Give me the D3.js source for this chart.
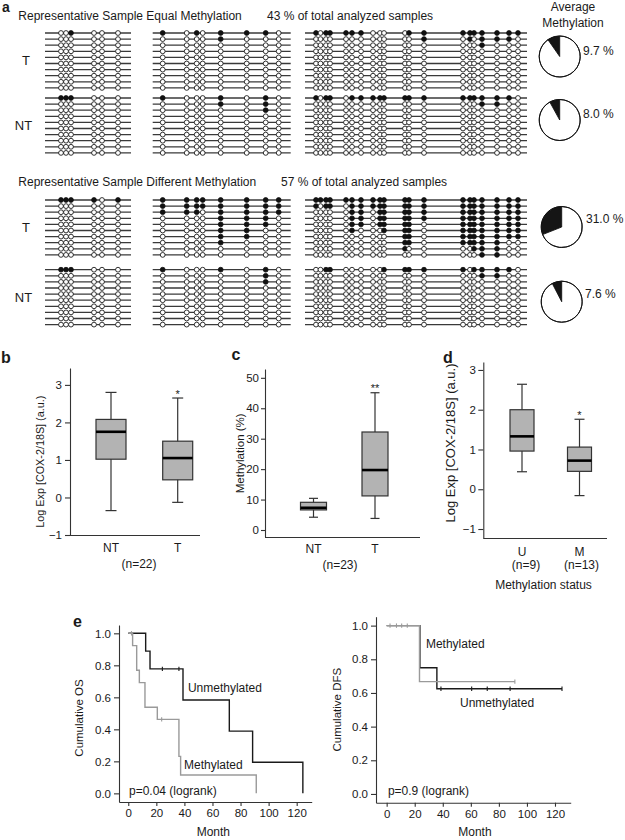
<!DOCTYPE html>
<html><head><meta charset="utf-8">
<script src="https://cdn.jsdelivr.net/npm/d3@7"></script>
<style>
body{margin:0;background:#fff}
svg{display:block;background:#fff}
</style>
</head><body>
<svg id="fig" width="625" height="840"></svg>
<script>
// ================= DATA =================
// Panel a : CpG site positions (bp within each amplicon) and amplicon lengths
const region1CpG = [16, 21, 26, 49, 57, 73];
const region1Len = 86;
const region2CpG = [10, 34, 44, 50, 68, 94, 113, 126];
const region2Len = 138;
const region3CpG = [11, 15.5, 21, 25, 41, 47, 56, 68, 75, 79, 100, 104, 119, 158, 165, 169, 177, 192, 204, 213];
const region3Len = 222;

// methylation status per clone (1 = methylated), regions separated by |
const equalT = [
  "001000|10101110|1011 111 000 01 1 1111 111",
  "000000|00001000|0000 000 000 00 1 0101 110",
  "000000|00000000|0000 000 000 00 0 0001 000",
  "000000|00000000|0000 000 000 00 0 0000 000",
  "000000|00000000|0000 000 000 00 0 0000 000",
  "000000|00000000|0000 000 000 00 0 0000 000",
  "000000|00000000|0000 000 000 00 0 0000 000",
  "000000|00000000|0000 000 000 00 0 0000 000",
  "000000|00000000|0000 000 000 00 0 0000 000",
  "000000|00000000|0000 000 000 00 0 0000 000"
];
const equalNT = [
  "111000|10001010|1011 011 111 11 1 1111 110",
  "000000|00001010|0000 000 000 00 0 0001 100",
  "000000|00000010|0000 000 000 00 0 0000 000",
  "000000|00000000|0000 000 000 00 0 0000 000",
  "000000|00000000|0000 000 000 00 0 0000 000",
  "000000|00000000|0000 000 000 00 0 0000 000",
  "000000|00000000|0000 000 000 00 0 0000 000",
  "000000|00000000|0000 000 000 00 0 0000 000",
  "000000|00000000|0000 000 000 00 0 0000 000",
  "000000|00000000|0000 000 000 00 0 0000 000"
];
const diffT = [
  "111101|11111111|1111 111 111 11 1 1111 111",
  "000000|11111111|1011 011 111 11 1 1111 111",
  "000000|11101111|0000 011 011 11 1 1111 111",
  "000000|00001110|0000 011 011 11 1 1111 111",
  "000000|00001110|0000 011 011 11 0 1111 111",
  "000000|00001100|0000 010 001 11 0 1111 111",
  "000000|00001100|0000 000 000 11 0 1111 111",
  "000000|00001000|0000 000 000 11 0 1111 100",
  "000000|00000000|0000 000 000 10 0 0011 100",
  "000000|00000000|0000 000 000 00 0 0001 100"
];
const diffNT = [
  "111000|10001010|0011 000 001 11 1 1011 110",
  "000000|00000010|0000 000 000 00 0 0001 100",
  "000000|00000010|0000 000 000 00 0 0000 000",
  "000000|00000000|0000 000 000 00 0 0000 000",
  "000000|00000000|0000 000 000 00 0 0000 000",
  "000000|00000000|0000 000 000 00 0 0000 000",
  "000000|00000000|0000 000 000 00 0 0000 000",
  "000000|00000000|0000 000 000 00 0 0000 000",
  "000000|00000000|0000 000 000 00 0 0000 000",
  "000000|00000000|0000 000 000 00 0 0000 000"
];
const avgMethylation = [9.7, 8.0, 31.0, 7.6];
const avgLabels = ["9.7 %", "8.0 %", "31.0 %", "7.6 %"];

// Panel b
const bCats = ["NT", "T"];
const bStats = [[-0.35, 1.02, 1.75, 2.08, 2.8], [-0.13, 0.47, 1.05, 1.5, 2.65]]; // min,q1,median,q3,max
const bStars = ["", "*"];
const bTicks = [-1, 0, 1, 2, 3];
// Panel c
const cCats = ["NT", "T"];
const cStats = [[4.2, 6.6, 7.3, 9.1, 10.4], [3.8, 11.2, 19.7, 32.2, 45.1]];
const cStars = ["", "**"];
const cTicks = [0, 10, 20, 30, 40, 50];
// Panel d
const dCats = ["U", "M"];
const dN = ["(n=9)", "(n=13)"];
const dStats = [[0.44, 0.96, 1.33, 2.0, 2.64], [-0.16, 0.45, 0.72, 1.06, 1.76]];
const dStars = ["", "*"];
const dTicks = [-1, 0, 1, 2, 3];

// Panel e : Kaplan-Meier steps [month, cumulative survival] and censor times
const osUnmeth = [[0, 1], [12.4, 0.889], [15.5, 0.778], [39, 0.583], [72, 0.389], [88.6, 0.194], [124.4, 0]];
const osUnmethCensor = [24.3, 36.1];
const osMeth = [[0, 1], [3.1, 0.923], [6, 0.769], [7.9, 0.692], [11.9, 0.538], [20.7, 0.462], [36.1, 0.231], [37.3, 0.115], [91.2, 0]];
const osMethCensor = [2.3, 23.8];
const dfsUnmeth = [[0, 1], [23.7, 0.75], [35.8, 0.625], [125, 0.625]];
const dfsUnmethCensor = [38.7, 60.6, 71.7, 88, 125];
const dfsMeth = [[0, 1], [23.4, 0.667], [91.4, 0.667]];
const dfsMethCensor = [2.4, 7, 10.7, 14.7, 91.4];
const kmXTicks = [0, 20, 40, 60, 80, 100, 120];
const kmYTicks = [0, 0.2, 0.4, 0.6, 0.8, 1.0];

// ================= DRAW =================
const FONT = "'Liberation Sans', Arial, Helvetica, sans-serif";
const INK = "#1a1a1a";
const AX = "#333";
const svg = d3.select("#fig");

function txt(x, y, s, o = {}) {
  const t = svg.append("text").attr("x", x).attr("y", y).text(s)
    .attr("font-family", FONT).attr("font-size", o.size || 12)
    .attr("fill", o.fill || INK)
    .attr("text-anchor", o.anchor || "start");
  if (o.bold) t.attr("font-weight", "bold");
  if (o.rotate) t.attr("transform", `rotate(-90 ${x} ${y})`);
  return t;
}
function styleAxis(g, size) {
  g.attr("font-family", FONT).attr("font-size", size).attr("color", AX);
  g.selectAll("text").attr("fill", INK);
  g.selectAll("line,path").attr("stroke-width", 1.1);
}

// ---------- Panel a ----------
txt(2, 12, "a", {size: 14, bold: true});
txt(18.3, 20, "Representative Sample Equal Methylation");
txt(267, 20, "43 % of total analyzed samples");
txt(18.3, 186, "Representative Sample Different Methylation");
txt(281, 186, "57 % of total analyzed samples");
txt(573, 11, "Average", {anchor: "middle"});
txt(573, 26.5, "Methylation", {anchor: "middle"});

const regions = [
  {cpg: region1CpG, len: region1Len, x0: 45, x1: 131},
  {cpg: region2CpG, len: region2Len, x0: 152.7, x1: 290.7},
  {cpg: region3CpG, len: region3Len, x0: 305, x1: 527}
];
const blocks = [
  {rows: equalT, y0: 33, label: "T", lx: 26},
  {rows: equalNT, y0: 98, label: "NT", lx: 23.5},
  {rows: diffT, y0: 200, label: "T", lx: 26},
  {rows: diffNT, y0: 269.7, label: "NT", lx: 23.5}
];
const rowStep = 6.1;
blocks.forEach((b, bi) => {
  const y = d3.scaleLinear().domain([0, b.rows.length - 1]).range([b.y0, b.y0 + (b.rows.length - 1) * rowStep]);
  const g = svg.append("g");
  b.rows.forEach((str, ri) => {
    const parts = str.replace(/ /g, "").split("|");
    regions.forEach((reg, k) => {
      const x = d3.scaleLinear().domain([0, reg.len]).range([reg.x0, reg.x1]);
      g.append("line").attr("x1", x(0)).attr("x2", x(reg.len))
        .attr("y1", y(ri)).attr("y2", y(ri)).attr("stroke", "#3a3a3a").attr("stroke-width", 1.3);
      g.selectAll(null).data(reg.cpg).enter().append("circle")
        .attr("cx", d => x(d)).attr("cy", y(ri)).attr("r", 2.4)
        .attr("fill", (d, i) => parts[k][i] === "1" ? "#111" : "#fff")
        .attr("stroke", "#111").attr("stroke-width", 0.85);
    });
  });
  const mid = (y(0) + y(b.rows.length - 1)) / 2;
  txt(b.lx, mid + 4.6, b.label, {size: 13, anchor: "middle"});
});

// pies
const pieCenters = [[559.7, 56.5], [559.7, 120], [561.7, 227], [561.7, 301.7]];
const labelPos = [[583, 54.5], [583, 118], [586, 223], [585, 297.5]];
const pie = d3.pie().sort(null).startAngle(0).endAngle(-2 * Math.PI);
const arc = d3.arc().innerRadius(0).outerRadius(20.5);
avgMethylation.forEach((v, i) => {
  const g = svg.append("g").attr("transform", `translate(${pieCenters[i][0]},${pieCenters[i][1]})`);
  g.selectAll("path").data(pie([v, 100 - v])).enter().append("path")
    .attr("d", arc).attr("fill", (d, j) => j === 0 ? "#151515" : "#fff")
    .attr("stroke", "#111").attr("stroke-width", 0.9);
  g.append("circle").attr("r", 20.5).attr("fill", "none").attr("stroke", "#111").attr("stroke-width", 1);
  txt(labelPos[i][0], labelPos[i][1], avgLabels[i], {size: 12});
});

// ---------- Box plots ----------
function boxPanel(cfg) {
  const y = d3.scaleLinear().domain(cfg.yDomain).range([cfg.bottom, cfg.top]);
  const x = d3.scalePoint().domain(cfg.cats).range(cfg.catRange);
  const g = svg.append("g");
  g.append("line").attr("x1", cfg.left).attr("x2", cfg.right)
    .attr("y1", cfg.bottom + 0.5).attr("y2", cfg.bottom + 0.5)
    .attr("stroke", AX).attr("stroke-width", 1.2);
  const ya = g.append("g").attr("transform", `translate(${cfg.left},0)`)
    .call(d3.axisLeft(y).tickValues(cfg.ticks).tickFormat(d3.format("d"))
      .tickSize(cfg.tickSize).tickSizeOuter(0).tickPadding(cfg.tickPad));
  styleAxis(ya, cfg.tickFont);
  const items = cfg.cats.map((c, i) => ({c, s: cfg.stats[i], star: cfg.stars[i]}));
  const bx = g.selectAll(null).data(items).enter().append("g");
  bx.append("line").attr("x1", d => x(d.c)).attr("x2", d => x(d.c))
    .attr("y1", d => y(d.s[0])).attr("y2", d => y(d.s[4])).attr("stroke", AX).attr("stroke-width", 1.2);
  [0, 4].forEach(k => bx.append("line")
    .attr("x1", d => x(d.c) - cfg.capW / 2).attr("x2", d => x(d.c) + cfg.capW / 2)
    .attr("y1", d => y(d.s[k])).attr("y2", d => y(d.s[k])).attr("stroke", AX).attr("stroke-width", 1.2));
  bx.append("rect").attr("x", d => x(d.c) - cfg.boxW / 2).attr("width", cfg.boxW)
    .attr("y", d => y(d.s[3])).attr("height", d => y(d.s[1]) - y(d.s[3]))
    .attr("fill", "#b3b3b3").attr("stroke", AX).attr("stroke-width", 1.2);
  bx.append("line").attr("x1", d => x(d.c) - cfg.boxW / 2).attr("x2", d => x(d.c) + cfg.boxW / 2)
    .attr("y1", d => y(d.s[2])).attr("y2", d => y(d.s[2])).attr("stroke", "#000").attr("stroke-width", 2.6);
  bx.append("text").attr("x", d => x(d.c)).attr("y", d => y(d.s[4]) - 0.5).text(d => d.star)
    .attr("text-anchor", "middle").attr("font-family", FONT).attr("font-size", 11).attr("fill", INK);
  bx.append("text").attr("x", d => x(d.c)).attr("y", cfg.catY).text(d => d.c)
    .attr("text-anchor", "middle").attr("font-family", FONT).attr("font-size", 12).attr("fill", INK);
  return x;
}

// b
txt(1, 363, "b", {size: 16, bold: true});
boxPanel({cats: bCats, stats: bStats, stars: bStars, ticks: bTicks, yDomain: [-1, 3.45],
  left: 70, right: 200, top: 368, bottom: 535, catRange: [111, 177.7], boxW: 30, capW: 11,
  tickSize: 5, tickPad: 3, tickFont: 11.5, catY: 551.5});
txt(44, 461.7, "Log Exp [COX-2/18S] (a.u.)", {size: 10.8, anchor: "middle", rotate: true});
txt(139, 568, "(n=22)", {anchor: "middle"});

// c
txt(231.5, 360, "c", {size: 16, bold: true});
boxPanel({cats: cCats, stats: cStats, stars: cStars, ticks: cTicks, yDomain: [-2.3, 52.9],
  left: 265, right: 420, top: 369, bottom: 537, catRange: [313.5, 375], boxW: 26, capW: 9,
  tickSize: 4, tickPad: 2, tickFont: 11.5, catY: 553});
txt(244, 453.3, "Methylation (%)", {size: 11.5, anchor: "middle", rotate: true});
txt(340, 569, "(n=23)", {anchor: "middle"});

// d
txt(443, 363, "d", {size: 16, bold: true});
const dx = boxPanel({cats: dCats, stats: dStats, stars: dStars, ticks: dTicks, yDomain: [-1.226, 3.2],
  left: 483.3, right: 607, top: 362, bottom: 538, catRange: [522, 579.5], boxW: 24, capW: 10,
  tickSize: 5, tickPad: 2.5, tickFont: 11.5, catY: 556});
txt(455, 443, "Log Exp [COX-2/18S] (a.u.)", {size: 13, anchor: "middle", rotate: true});
svg.append("g").selectAll("text").data(dCats).enter().append("text")
  .attr("x", (d, i) => dx(d) + (i === 0 ? 4 : 2)).attr("y", 569).text((d, i) => dN[i])
  .attr("text-anchor", "middle").attr("font-family", FONT).attr("font-size", 12).attr("fill", INK);
txt(543.5, 588.5, "Methylation status", {anchor: "middle"});

// ---------- Kaplan-Meier ----------
function kmPanel(cfg) {
  const x = d3.scaleLinear().domain(cfg.xDomain).range([cfg.left, cfg.right]);
  const y = d3.scaleLinear().domain(cfg.yDomain).range([cfg.bottom, cfg.top]);
  const g = svg.append("g");
  const xa = g.append("g").attr("transform", `translate(0,${cfg.bottom})`)
    .call(d3.axisBottom(x).tickValues(kmXTicks).tickSize(4).tickSizeOuter(0).tickPadding(3));
  styleAxis(xa, 11.5);
  const ya = g.append("g").attr("transform", `translate(${cfg.left},0)`)
    .call(d3.axisLeft(y).tickValues(kmYTicks).tickFormat(d3.format(".1f")).tickSize(5).tickSizeOuter(0).tickPadding(3));
  styleAxis(ya, 11.5);
  const line = d3.line().x(d => x(d[0])).y(d => y(d[1])).curve(d3.curveStepAfter);
  const survAt = (steps, t) => { let v = steps[0][1]; steps.forEach(s => { if (s[0] <= t) v = s[1]; }); return v; };
  cfg.series.forEach(s => {
    g.append("path").datum(s.steps).attr("d", line).attr("fill", "none")
      .attr("stroke", s.color).attr("stroke-width", 1.4);
    g.selectAll(null).data(s.censor).enter().append("line")
      .attr("x1", d => x(d)).attr("x2", d => x(d))
      .attr("y1", d => y(survAt(s.steps, d)) - 2.2).attr("y2", d => y(survAt(s.steps, d)) + 2.2)
      .attr("stroke", s.color).attr("stroke-width", 1.1);
  });
  cfg.notes.forEach(n => txt(x(n[0]), y(n[1]), n[2], {size: 12}));
  txt((cfg.left + cfg.right) / 2 + cfg.monthDx, 836, "Month", {anchor: "middle"});
  txt(cfg.ylabX, (cfg.top + cfg.bottom) / 2 + cfg.ylabDy, cfg.ylab, {size: 11.5, anchor: "middle", rotate: true});
}

txt(73, 627, "e", {size: 16, bold: true});
kmPanel({left: 119, right: 311.7, top: 625, bottom: 802, xDomain: [-6.6, 130.7], yDomain: [-0.054, 1.052],
  series: [{steps: osUnmeth, censor: osUnmethCensor, color: "#1a1a1a"},
           {steps: osMeth, censor: osMethCensor, color: "#9a9a9a"}],
  notes: [[42.5, 0.633, "Unmethylated"], [39.7, 0.152, "Methylated"], [0.5, -0.01, "p=0.04 (logrank)"]],
  monthDx: -2, ylabX: 83, ylabDy: 4.5, ylab: "Cumulative OS"});
kmPanel({left: 376, right: 570.7, top: 616.7, bottom: 802.7, xDomain: [-7.6, 131.2], yDomain: [-0.052, 1.053],
  series: [{steps: dfsUnmeth, censor: dfsUnmethCensor, color: "#1a1a1a"},
           {steps: dfsMeth, censor: dfsMethCensor, color: "#9a9a9a"}],
  notes: [[28, 0.87, "Methylated"], [52.3, 0.517, "Unmethylated"], [0.9, -0.006, "p=0.9 (logrank)"]],
  monthDx: 1.6, ylabX: 341, ylabDy: 0, ylab: "Cumulative DFS"});
</script>
</body></html>
